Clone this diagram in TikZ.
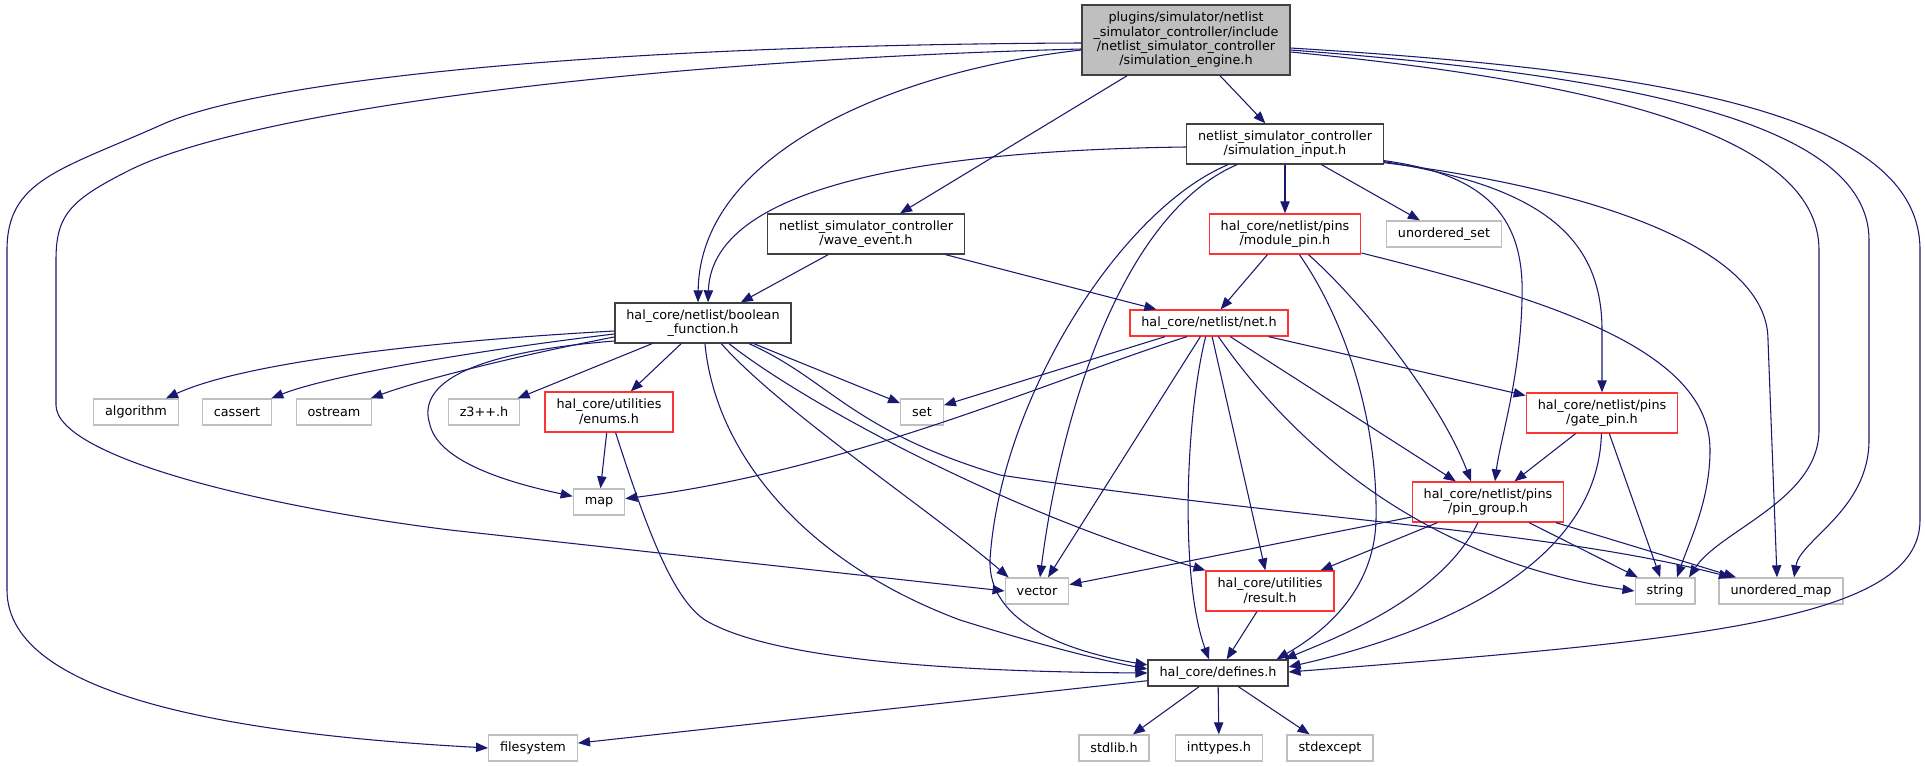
\documentclass[tikz,border=0pt]{standalone}
\usepackage{fontspec}
\setmainfont{DejaVu Sans}
\usepackage{xcolor}
\usepackage{tikz}
\usetikzlibrary{arrows.meta,calc}
\definecolor{cEdge}{HTML}{191970}
\definecolor{cFrame}{HTML}{404040}
\definecolor{cTrunc}{HTML}{FF3333}
\definecolor{cSys}{HTML}{BFBFBF}
\definecolor{cRoot}{HTML}{BFBFBF}
\tikzset{
  inc/block/.style={draw=cFrame, line width=1pt, fill=white, rectangle,
                    align=center, inner xsep=8.6pt, inner ysep=1pt,
                    minimum height=19.5pt,
                    font=\fontsize{9.6}{11}\selectfont},
  inc/two/.style        ={minimum height=30pt},
  inc/rootblock/.style  ={inc/block, fill=cRoot, minimum height=52.5pt,
                          font=\fontsize{9.6}{10.8}\selectfont},
  inc/truncblock/.style ={inc/block, inc/two, draw=cTrunc},
  inc/sysblock/.style   ={inc/block, draw=cSys},
  inc/arr/.style        ={-{Triangle[length=9pt, width=7pt]}, line width=0.8pt, cEdge}
}

\begin{document}
\begin{tikzpicture}[x=0.75pt, y=-0.75pt]
    \fill[white] (0,0) rectangle (1925,767);
    \useasboundingbox (0,0) rectangle (1925,767);

    % project headers
    \node[inc/rootblock] (engine) at (1186,40)
      {plugins/simulator/netlist\\\_simulator\_controller/include\\/netlist\_simulator\_controller\\/simulation\_engine.h};
    \node[inc/block, inc/two] (siminput)  at (1285,144) {netlist\_simulator\_controller\\/simulation\_input.h};
    \node[inc/block, inc/two] (waveevent) at (866,234)  {netlist\_simulator\_controller\\/wave\_event.h};
    \node[inc/block, inc/two] (boolfn)    at (703,323)  {hal\_core/netlist/boolean\\\_function.h};
    \node[inc/block]          (defines)   at (1218,673) {hal\_core/defines.h};
    % truncated (red) headers
    \node[inc/truncblock] (modulepin) at (1285,234) {hal\_core/netlist/pins\\/module\_pin.h};
    \node[inc/truncblock, minimum height=19.5pt] (neth) at (1209,323) {hal\_core/netlist/net.h};
    \node[inc/truncblock] (gatepin)   at (1602,413) {hal\_core/netlist/pins\\/gate\_pin.h};
    \node[inc/truncblock] (pingroup)  at (1488,502) {hal\_core/netlist/pins\\/pin\_group.h};
    \node[inc/truncblock] (enums)     at (609,412)  {hal\_core/utilities\\/enums.h};
    \node[inc/truncblock] (result)    at (1270,591) {hal\_core/utilities\\/result.h};
    % system headers
    \foreach \nm/\xx/\txt in {algorithm/136/algorithm, cassert/237/cassert,
                              ostream/334/ostream, zthree/484/z3++.h, set/922/set} {
      \node[inc/sysblock] (\nm) at (\xx,412) {\txt};
    }
    \node[inc/sysblock] (unorderedset) at (1444,234) {unordered\_set};
    \node[inc/sysblock] (map)    at (599,502)  {map};
    \node[inc/sysblock] (vector) at (1037,591) {vector};
    \node[inc/sysblock] (str)    at (1665,591) {string};
    \node[inc/sysblock] (umap)   at (1781,591) {unordered\_map};
    \foreach \nm/\xx/\txt in {filesystem/533/filesystem, stdlib/1114/stdlib.h,
                              inttypes/1219/inttypes.h, stdexcept/1330/stdexcept} {
      \node[inc/sysblock] (\nm) at (\xx,748) {\txt};
    }

    % simulation_engine.h
    \draw[inc/arr] (engine) -- (siminput);
    \draw[inc/arr] (engine) -- (waveevent);
    \draw[inc/arr] ($(engine.west)+(0,10)$) .. controls (900,70) and (700,150) .. ($(boolfn.north)+(-5,0)$);
    \draw[inc/arr] ($(engine.west)+(0,3)$) .. controls (600,45) and (260,80) .. (161,125)
      .. controls (60,170) and (7,180) .. (7,250) -- (7,590)
      .. controls (7,700) and (250,735) .. (filesystem.west);
    \draw[inc/arr] ($(engine.west)+(0,9)$) .. controls (650,60) and (250,110) .. (130,170)
      .. controls (70,200) and (56,215) .. (56,260) -- (56,405)
      .. controls (56,455) and (250,505) .. (450,530) -- (vector.west);
    \draw[inc/arr] ($(engine.east)+(0,12)$) .. controls (1580,80) and (1819,130) .. (1819,250)
      -- (1819,430) .. controls (1819,500) and (1720,530) .. ($(str.north)+(24,0)$);
    \draw[inc/arr] ($(engine.east)+(0,10)$) .. controls (1620,75) and (1869,120) .. (1869,240)
      -- (1869,440) .. controls (1869,510) and (1800,540) .. ($(umap.north)+(13,0)$);
    \draw[inc/arr] ($(engine.east)+(0,8)$) .. controls (1650,70) and (1920,110) .. (1920,250)
      -- (1920,520) .. controls (1920,620) and (1700,640) .. ($(defines.east)+(0,-1)$);

    % simulation_input.h
    \draw[inc/arr] ($(siminput.west)+(0,3)$) .. controls (950,150) and (712,180) .. ($(boolfn.north)+(5,0)$);
    \draw[inc/arr] (siminput) .. controls (1120,215) and (1060,420) .. ($(vector.north)+(3,0)$);
    \draw[inc/arr] ($(siminput.south)+(-57,0)$) .. controls (1120,210) and (1000,400) .. (990,560)
      .. controls (988,620) and (1060,650) .. ($(defines.west)+(0,-8)$);
    \draw[inc/arr] (siminput) -- (modulepin);
    \draw[inc/arr] (siminput) -- (unorderedset);
    \draw[inc/arr] ($(siminput.south east)+(0,-4)$) .. controls (1490,175) and (1525,220) .. (1522,300)
      .. controls (1520,380) and (1500,440) .. ($(pingroup.north)+(7,0)$);
    \draw[inc/arr] ($(siminput.south east)+(0,-3)$) .. controls (1530,185) and (1602,230) .. (1602,330)
      -- (gatepin);
    \draw[inc/arr] ($(siminput.south east)+(0,-2)$) .. controls (1600,190) and (1768,250) .. (1768,340)
      -- ($(umap.north)+(-4,0)$);

    % wave_event.h
    \draw[inc/arr] (waveevent) -- (boolfn);
    \draw[inc/arr] (waveevent) -- (neth);

    % boolean_function.h
    \draw[inc/arr] ($(boolfn.west)+(0,8)$)  .. controls (450,340) and (250,360) .. (algorithm);
    \draw[inc/arr] ($(boolfn.west)+(0,11)$) .. controls (480,350) and (330,375) .. (cassert);
    \draw[inc/arr] ($(boolfn.west)+(0,14)$) .. controls (520,355) and (420,380) .. (ostream);
    \draw[inc/arr] ($(boolfn.west)+(0,18)$) .. controls (440,355) and (420,395) .. (430,425)
      .. controls (440,465) and (520,485) .. (map);
    \draw[inc/arr] (boolfn) -- (zthree);
    \draw[inc/arr] (boolfn) -- (enums);
    \draw[inc/arr] (boolfn) -- (set);
    \draw[inc/arr] (boolfn) .. controls (830,380) and (850,430) .. (1000,475)
      .. controls (1300,520) and (1550,530) .. ($(umap.north)+(-50,0)$);
    \draw[inc/arr] (boolfn) .. controls (715,450) and (800,560) .. (960,620)
      .. controls (1040,645) and (1100,660) .. ($(defines.west)+(0,-4)$);
    \draw[inc/arr] (boolfn) .. controls (780,410) and (930,510) .. ($(vector.north west)+(4,0)$);
    \draw[inc/arr] (boolfn) .. controls (800,400) and (1000,510) .. (result.north west);

    % enums.h
    \draw[inc/arr] (enums) -- (map);
    \draw[inc/arr] (enums) .. controls (650,540) and (675,600) .. (705,620)
      .. controls (780,665) and (1000,672) .. (defines.west);

    % module_pin.h
    \draw[inc/arr] (modulepin) -- (neth);
    \draw[inc/arr] (modulepin) .. controls (1345,320) and (1378,420) .. (1376,520)
      .. controls (1374,600) and (1310,640) .. ($(defines.north east)+(-12,0)$);
    \draw[inc/arr] (modulepin) .. controls (1360,300) and (1440,400) .. ($(pingroup.north)+(-17,0)$);
    \draw[inc/arr] (modulepin) .. controls (1550,300) and (1710,350) .. (1710,450)
      .. controls (1710,500) and (1690,540) .. ($(str.north)+(12,0)$);

    % net.h
    \draw[inc/arr] (neth) -- (set);
    \draw[inc/arr] ($(neth.south)+(-22,0)$) .. controls (1050,380) and (850,470) .. (map);
    \draw[inc/arr] (neth) -- ($(vector.north)+(11,0)$);
    \draw[inc/arr] (neth) .. controls (1185,420) and (1180,580) .. ($(defines.north)+(-9,0)$);
    \draw[inc/arr] (neth) -- (result);
    \draw[inc/arr] (neth) .. controls (1290,440) and (1420,560) .. (str.west);
    \draw[inc/arr] (neth) -- (pingroup);
    \draw[inc/arr] (neth) -- (gatepin);

    % gate_pin.h
    \draw[inc/arr] (gatepin) -- (pingroup);
    \draw[inc/arr] (gatepin) .. controls (1598,560) and (1450,630) .. ($(defines.east)+(0,-6)$);
    \draw[inc/arr] (gatepin) -- (str);

    % pin_group.h
    \draw[inc/arr] (pingroup) -- (vector);
    \draw[inc/arr] (pingroup) -- (result);
    \draw[inc/arr] (pingroup) .. controls (1440,600) and (1330,640) .. ($(defines.north east)+(-4,0)$);
    \draw[inc/arr] (pingroup) -- (str);
    \draw[inc/arr] (pingroup) -- (umap);

    % result.h and defines.h
    \draw[inc/arr] (result) -- (defines);
    \foreach \t in {filesystem,stdlib,inttypes,stdexcept} {
      \draw[inc/arr] (defines) -- (\t);
    }
\end{tikzpicture}
\end{document}
